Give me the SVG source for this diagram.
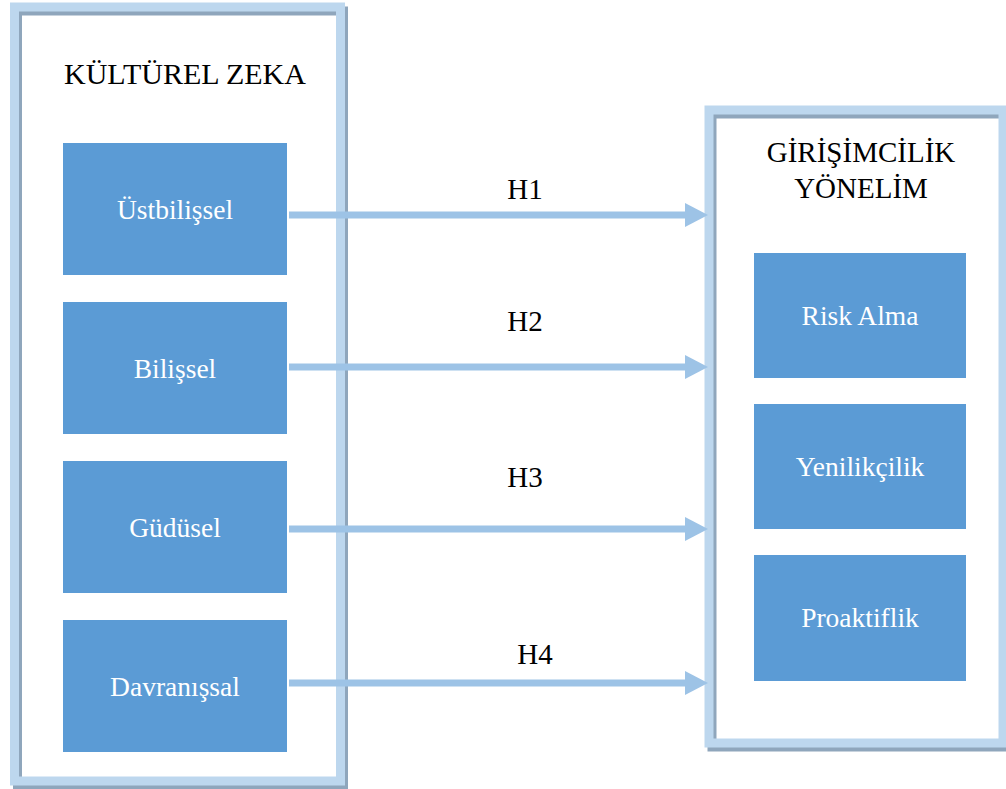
<svg xmlns="http://www.w3.org/2000/svg" width="1006" height="789" viewBox="0 0 1006 789">
<defs>
<style>
.shadow{fill:none;stroke:#8FA6BC;stroke-width:9}
.frame{fill:none;stroke:#BDD7EE;stroke-width:9}
.box{fill:#5B9BD5}
.bt{font-family:"Liberation Serif",serif;font-size:27.5px;fill:#FFFFFF;text-anchor:middle;dominant-baseline:central}
.tt{font-family:"Liberation Serif",serif;font-size:29px;fill:#000000;text-anchor:middle}
.conn{stroke:#9DC3E6;stroke-width:7;fill:none}
.head{fill:#9DC3E6}
</style>
</defs>
<rect width="1006" height="789" fill="#FFFFFF"/>
<g id="kulturel-zeka">
<rect x="15.5" y="9" width="325" height="774" fill="#FFFFFF"/>
<rect class="shadow" x="17.5" y="11" width="326" height="774"/>
<rect class="frame" x="14.5" y="7" width="326" height="774"/>
<text class="tt" x="185" y="84" style="font-size:30px">KÜLTÜREL ZEKA</text>
</g>
<g id="girisimcilik">
<rect x="709" y="110" width="294" height="633" fill="#FFFFFF"/>
<rect class="shadow" x="712" y="114" width="294" height="633"/>
<rect class="frame" x="709" y="110" width="294" height="633"/>
<text class="tt" x="861" y="162">GİRİŞİMCİLİK</text>
<text class="tt" x="861" y="198">YÖNELİM</text>
</g>
<g id="ustbilissel"><rect class="box" x="63" y="143" width="224" height="132"/><text class="bt" x="175" y="209">Üstbilişsel</text></g>
<g id="bilissel"><rect class="box" x="63" y="302" width="224" height="132"/><text class="bt" x="175" y="368">Bilişsel</text></g>
<g id="gudusel"><rect class="box" x="63" y="461" width="224" height="132"/><text class="bt" x="175" y="527">Güdüsel</text></g>
<g id="davranissal"><rect class="box" x="63" y="620" width="224" height="132"/><text class="bt" x="175" y="686">Davranışsal</text></g>
<g id="risk-alma"><rect class="box" x="754" y="253" width="212" height="125"/><text class="bt" x="860" y="315">Risk Alma</text></g>
<g id="yenilikcilik"><rect class="box" x="754" y="404" width="212" height="125"/><text class="bt" x="860" y="466">Yenilikçilik</text></g>
<g id="proaktiflik"><rect class="box" x="754" y="555" width="212" height="126"/><text class="bt" x="860" y="617">Proaktiflik</text></g>
<g id="connectors">
<line class="conn" x1="289" y1="215" x2="686" y2="215"/><polygon class="head" points="685,203 708,215 685,227"/>
<line class="conn" x1="289" y1="367" x2="686" y2="367"/><polygon class="head" points="685,355 708,367 685,379"/>
<line class="conn" x1="289" y1="529" x2="686" y2="529"/><polygon class="head" points="685,517 708,529 685,541"/>
<line class="conn" x1="289" y1="683" x2="686" y2="683"/><polygon class="head" points="685,671 708,683 685,695"/>
<text class="tt" x="525" y="199">H1</text>
<text class="tt" x="525" y="331">H2</text>
<text class="tt" x="525" y="487">H3</text>
<text class="tt" x="535" y="664">H4</text>
</g>
</svg>
